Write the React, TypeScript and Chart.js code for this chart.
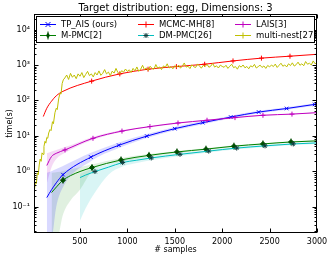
import React, { useEffect, useRef } from 'react';
import { Chart, registerables } from 'chart.js';

Chart.register(...registerables);

const TITLE = 'Target distribution: egg, Dimensions: 3';
const X_LABEL = '# samples';
const Y_LABEL = 'time(s)';
const FONT = 'DejaVu Sans';

const xTickValues = [500, 1000, 1500, 2000, 2500, 3000];
const xTickLabels = ['500', '1000', '1500', '2000', '2500', '3000'];
const yTickValues = [0.1, 1, 10, 100, 1000, 10000];
const yTickLabels = ['10⁻¹', '10⁰', '10¹', '10²', '10³', '10⁴'];

// TP_AIS (ours)
const tpAisX = [150, 200, 250, 321, 615, 910, 1205, 1500, 1795, 2090, 2385, 2680, 2975, 3000];
const tpAisY = [0.18, 0.3, 0.47, 0.8, 2.5, 5.4, 9.8, 15.9, 23.5, 33.8, 46.8, 59, 77, 79];
const tpAisMarkX = [321, 615, 910, 1205, 1500, 1795, 2090, 2385, 2680, 2975];
const tpAisLo = [0.01, 0.012, 0.1, 0.35, 1.9, 4.5, 8.6, 14.3, 21.3, 31, 43, 54.5, 71, 73];
const tpAisHi = [0.9, 1.0, 1.15, 1.4, 3.3, 6.5, 11.2, 17.8, 26, 37, 51, 64, 83, 85];

// MCMC-MH[8]
const mcmcX = [113, 150, 200, 250, 320, 623, 920, 1218, 1517, 1815, 2114, 2414, 2715, 3000];
const mcmcY = [35, 60, 95, 135, 180, 350, 560, 760, 900, 1050, 1300, 1560, 1770, 2000];
const mcmcMarkX = [623, 920, 1218, 1517, 1815, 2114, 2414, 2715];

// LAIS[3]
const laisX = [150, 200, 250, 342, 637, 943, 1238, 1534, 1840, 2135, 2430, 2736, 3000];
const laisY = [1.45, 2.6, 3.2, 4.0, 8.5, 13.6, 18.2, 23, 27.5, 32.6, 38, 41, 45];
const laisMarkX = [342, 637, 943, 1238, 1534, 1840, 2135, 2430, 2736];
const laisLo = [0.45, 1.3, 2.2, 3.3, 7.7, 12.8, 17.4, 22, 26.5, 31.7, 37, 40, 44];
const laisHi = [3.2, 3.6, 4.0, 4.8, 9.3, 14.5, 19, 24, 28.5, 33.5, 39, 42, 46];

// M-PMC[2]
const mpmcX = [200, 260, 321, 400, 500, 627, 933, 1228, 1523, 1829, 2124, 2430, 2726, 3000];
const mpmcY = [0.25, 0.38, 0.56, 0.75, 0.98, 1.27, 2.08, 2.8, 3.5, 4.2, 5.1, 5.9, 6.7, 7.2];
const mpmcMarkX = [321, 627, 933, 1228, 1523, 1829, 2124, 2430, 2726];
const mpmcLo = [0.01, 0.012, 0.06, 0.15, 0.3, 1.0, 1.85, 2.55, 3.25, 3.95, 4.8, 5.6, 6.4, 6.9];
const mpmcHi = [0.9, 0.95, 1.0, 1.15, 1.3, 1.55, 2.35, 3.05, 3.75, 4.45, 5.4, 6.2, 7.0, 7.5];

// DM-PMC[26]
const dmpmcX = [500, 560, 658, 800, 950, 1100, 1252, 1555, 1858, 2153, 2452, 2750, 3000];
const dmpmcY = [0.66, 0.78, 0.98, 1.3, 1.76, 2.05, 2.37, 3.0, 3.7, 4.5, 5.2, 5.9, 6.3];
const dmpmcMarkX = [658, 950, 1252, 1555, 1858, 2153, 2452, 2750];
const dmpmcLo = [0.04, 0.09, 0.25, 0.8, 1.35, 1.7, 2.05, 2.7, 3.4, 4.15, 4.85, 5.5, 5.9];
const dmpmcHi = [0.85, 1.0, 1.25, 1.6, 2.1, 2.35, 2.65, 3.3, 4.0, 4.85, 5.55, 6.3, 6.7];

// multi-nest[27]
const nestX = [
  20, 30, 40, 50, 60, 70, 80, 90, 100, 110, 120, 131, 140, 150, 160, 170, 184, 195, 210, 220, 236, 250, 260, 275, 289, 300, 312, 324,
  340, 360, 380, 400, 420, 440, 460, 480, 500, 520, 540, 560, 580, 600,
  620, 640, 660, 680, 700, 720, 740, 760, 780, 800, 820, 840, 860, 880, 900, 920, 940, 960, 980, 1000,
  1020, 1040, 1060, 1080, 1100, 1120, 1140, 1160, 1180, 1200, 1220, 1240, 1260, 1280, 1300, 1320, 1340, 1360, 1380, 1400, 1420, 1440, 1460, 1480, 1500,
  1520, 1540, 1560, 1580, 1600, 1620, 1640, 1660, 1680, 1700, 1720, 1740, 1760, 1780, 1800, 1820, 1840, 1860, 1880, 1900, 1920, 1940, 1960, 1980, 2000,
  2020, 2040, 2060, 2080, 2100, 2120, 2140, 2160, 2180, 2200, 2220, 2240, 2260, 2280, 2300, 2320, 2340, 2360, 2380, 2400, 2420, 2440, 2460, 2480, 2500,
  2520, 2540, 2560, 2580, 2600, 2620, 2640, 2660, 2680, 2700, 2720, 2740, 2760, 2780, 2800, 2820, 2840, 2860, 2880, 2900, 2920, 2940, 2960, 2980, 3000,
];
const nestY = [
  0.3, 0.5, 0.45, 0.9, 0.8, 1.5, 2.2, 1.9, 3.3, 3.0, 5.0, 7, 6.2, 9, 8.5, 12, 15, 14, 25, 22, 45, 60, 55, 110, 160, 150, 300, 380,
  430, 520, 390, 580, 450, 520, 410, 560, 480, 610, 440, 540, 660, 500,
  560, 460, 610, 520, 680, 510, 580, 740, 560, 630, 500, 670, 590, 800, 610, 560, 690, 630, 770, 660,
  730, 620, 800, 680, 880, 660, 760, 980, 740, 830, 700, 920, 800, 760, 1030, 810, 880, 740, 940, 860, 1080, 820, 900, 780, 960,
  860, 990, 810, 940, 1140, 870, 920, 790, 1010, 890, 850, 1070, 940, 810, 980, 900, 1050, 860, 930, 1110, 870, 950, 820, 990, 910,
  860, 980, 800, 920, 1050, 840, 900, 760, 960, 870, 1000, 830, 910, 780, 950, 880, 1040, 820, 900, 990, 850, 940, 800, 970, 880,
  1000, 900, 1060, 850, 980, 1120, 920, 1000, 880, 1080, 960, 1150, 930, 1020, 1200, 980, 1080, 950, 1250, 1050, 1120, 1000, 1300, 1080, 1180,
];

const BLUE = '#0000ff';
const RED = '#ff0000';
const MAGENTA = '#bf00bf';
const GREEN = '#008000';
const CYAN = '#00bfbf';
const YELLOW = '#bfbf00';
const GREEN_MARK = '#004d00';
const CYAN_MARK = '#0d3d3d';

const pts = (xs: number[], ys: number[]) => xs.map((x, i) => ({ x, y: ys[i] }));

const lineDs = (label: string, xs: number[], ys: number[], color: string, markX: number[], style: string, markColor: string, radius: number, order: number, extra: any = {}) => ({
  label,
  data: pts(xs, ys),
  borderColor: color,
  backgroundColor: markColor,
  borderWidth: 1,
  pointStyle: style,
  pointBorderColor: markColor,
  pointBackgroundColor: markColor,
  pointBorderWidth: 1,
  pointRadius: (ctx: any) => (markX.includes(xs[ctx.dataIndex]) ? radius : 0),
  cubicInterpolationMode: 'monotone',
  fill: false,
  order,
  ...extra,
});

const bandDs = (xs: number[], lo: number[], hi: number[], rgba: string) => [
  { label: '_lo', data: pts(xs, lo), borderWidth: 0, pointRadius: 0, fill: false, cubicInterpolationMode: 'monotone', order: 20, borderColor: 'rgba(0,0,0,0)' },
  { label: '_hi', data: pts(xs, hi), borderWidth: 0, pointRadius: 0, fill: '-1', backgroundColor: rgba, cubicInterpolationMode: 'monotone', order: 20, borderColor: 'rgba(0,0,0,0)' },
];

type LegendItem = { text: string; color: string; marker: string; mcolor: string };
const legendItems: LegendItem[] = [
  { text: 'TP_AIS (ours)', color: BLUE, marker: 'x', mcolor: BLUE },
  { text: 'MCMC-MH[8]', color: RED, marker: '+', mcolor: RED },
  { text: 'LAIS[3]', color: MAGENTA, marker: '+', mcolor: MAGENTA },
  { text: 'M-PMC[2]', color: GREEN, marker: 'd', mcolor: GREEN_MARK },
  { text: 'DM-PMC[26]', color: CYAN, marker: '*', mcolor: CYAN_MARK },
  { text: 'multi-nest[27]', color: YELLOW, marker: '+', mcolor: YELLOW },
];

function drawMarker(ctx: CanvasRenderingContext2D, kind: string, x: number, y: number, color: string) {
  ctx.save();
  ctx.strokeStyle = color;
  ctx.fillStyle = color;
  ctx.lineWidth = 1;
  ctx.beginPath();
  if (kind === 'x') {
    ctx.moveTo(x - 2.5, y - 2.5); ctx.lineTo(x + 2.5, y + 2.5);
    ctx.moveTo(x - 2.5, y + 2.5); ctx.lineTo(x + 2.5, y - 2.5);
    ctx.stroke();
  } else if (kind === '+') {
    ctx.moveTo(x - 3, y); ctx.lineTo(x + 3, y);
    ctx.moveTo(x, y - 3); ctx.lineTo(x, y + 3);
    ctx.stroke();
  } else if (kind === 'd') {
    ctx.moveTo(x, y - 4); ctx.lineTo(x, y + 4); ctx.stroke();
    ctx.beginPath();
    ctx.moveTo(x, y - 3); ctx.lineTo(x + 2, y); ctx.lineTo(x, y + 3); ctx.lineTo(x - 2, y); ctx.closePath();
    ctx.fill();
  } else if (kind === '*') {
    ctx.moveTo(x - 2.5, y); ctx.lineTo(x + 2.5, y);
    ctx.moveTo(x, y - 2.5); ctx.lineTo(x, y + 2.5);
    ctx.moveTo(x - 2, y - 2); ctx.lineTo(x + 2, y + 2);
    ctx.moveTo(x - 2, y + 2); ctx.lineTo(x + 2, y - 2);
    ctx.stroke();
  }
  ctx.restore();
}

const decorPlugin = {
  id: 'decor',
  afterDraw(chart: any) {
    const { ctx, chartArea: a, scales } = chart;
    const xs = scales.x;
    const ys = scales.y;
    ctx.save();
    // title
    ctx.fillStyle = '#000';
    ctx.font = `10px "${FONT}"`;
    ctx.textAlign = 'center';
    ctx.textBaseline = 'middle';
    ctx.fillText(TITLE, (a.left + a.right) / 2, 8);
    // frame
    ctx.strokeStyle = '#000';
    ctx.lineWidth = 1;
    const L = Math.round(a.left) + 0.5;
    const R = Math.round(a.right) - 0.5;
    const T = Math.round(a.top) + 0.5;
    const B = Math.round(a.bottom) - 0.5;
    ctx.strokeRect(L, T, R - L, B - T);
    // ticks
    ctx.beginPath();
    for (const v of xTickValues) {
      const px = Math.round(xs.getPixelForValue(v)) + 0.5;
      ctx.moveTo(px, B); ctx.lineTo(px, B - 4);
      ctx.moveTo(px, T); ctx.lineTo(px, T + 4);
    }
    for (let e = -2; e <= 4; e++) {
      for (let k = 1; k <= 9; k++) {
        const v = k * Math.pow(10, e);
        if (v < ys.min || v > ys.max) continue;
        const py = Math.round(ys.getPixelForValue(v)) + 0.5;
        const len = k === 1 ? 4 : 2;
        ctx.moveTo(L, py); ctx.lineTo(L + len, py);
        ctx.moveTo(R, py); ctx.lineTo(R - len, py);
      }
    }
    ctx.stroke();
    // legend
    const bx = 36.5, by = 16.5, bw = 278, bh = 26;
    ctx.fillStyle = '#fff';
    ctx.fillRect(bx, by, bw, bh);
    ctx.strokeStyle = '#000';
    ctx.strokeRect(bx, by, bw, bh);
    const colX = [40, 138, 235];
    const rowY = [24, 35];
    ctx.font = `8.5px "${FONT}"`;
    ctx.textAlign = 'left';
    ctx.textBaseline = 'middle';
    legendItems.forEach((it, i) => {
      const cx = colX[i % 3];
      const cy = rowY[Math.floor(i / 3)] + 0.5;
      ctx.strokeStyle = it.color;
      ctx.lineWidth = 1;
      ctx.beginPath();
      ctx.moveTo(cx, cy); ctx.lineTo(cx + 16, cy);
      ctx.stroke();
      drawMarker(ctx, it.marker, cx + 8, cy, it.mcolor);
      ctx.fillStyle = '#000';
      ctx.fillText(it.text, cx + 21, cy);
    });
    ctx.restore();
  },
};

export default function App() {
  const ref = useRef<HTMLCanvasElement>(null);
  useEffect(() => {
    if (!ref.current) return;
    const datasets: any[] = [
      ...bandDs(tpAisX, tpAisLo, tpAisHi, 'rgba(0,0,255,0.15)'),
      ...bandDs(laisX, laisLo, laisHi, 'rgba(191,0,191,0.15)'),
      ...bandDs(mpmcX, mpmcLo, mpmcHi, 'rgba(0,128,0,0.12)'),
      ...bandDs(dmpmcX, dmpmcLo, dmpmcHi, 'rgba(0,191,191,0.15)'),
      lineDs('TP_AIS (ours)', tpAisX, tpAisY, BLUE, tpAisMarkX, 'crossRot', BLUE, 2.5, 6),
      lineDs('MCMC-MH[8]', mcmcX, mcmcY, RED, mcmcMarkX, 'cross', RED, 2.5, 5),
      lineDs('LAIS[3]', laisX, laisY, MAGENTA, laisMarkX, 'cross', MAGENTA, 2.5, 4),
      lineDs('M-PMC[2]', mpmcX, mpmcY, GREEN, mpmcMarkX, 'rectRot', GREEN_MARK, 2.5, 3),
      {
        label: '_err',
        data: pts(mpmcMarkX, mpmcMarkX.map((x) => mpmcY[mpmcX.indexOf(x)])),
        showLine: false,
        pointStyle: 'line',
        rotation: 90,
        pointRadius: 3.5,
        pointBorderColor: GREEN_MARK,
        pointBorderWidth: 1,
        order: 3,
      },
      lineDs('DM-PMC[26]', dmpmcX, dmpmcY, CYAN, dmpmcMarkX, 'star', CYAN_MARK, 2.5, 2),
      lineDs('multi-nest[27]', nestX, nestY, YELLOW, [], 'cross', YELLOW, 2.5, 1, { cubicInterpolationMode: 'default', tension: 0 }),
    ];
    const chart = new Chart(ref.current, {
      type: 'line',
      data: { datasets },
      options: {
        responsive: false,
        animation: false,
        devicePixelRatio: 1,
        layout: { padding: { left: 0, right: 15, top: 14, bottom: 0 } },
        plugins: { legend: { display: false }, tooltip: { enabled: false }, title: { display: false } },
        scales: {
          x: {
            type: 'linear',
            min: 15,
            max: 3000,
            afterBuildTicks: (s: any) => { s.ticks = xTickValues.map((v) => ({ value: v })); },
            afterFit: (s: any) => { s.height = 26; },
            ticks: {
              font: { family: FONT, size: 8 },
              color: '#000',
              padding: 4,
              maxRotation: 0,
              autoSkip: false,
              callback: (v: any) => { const i = xTickValues.indexOf(Number(v)); return i >= 0 ? xTickLabels[i] : ''; },
            },
            grid: { display: false, drawTicks: false },
            border: { display: false },
            title: { display: true, text: X_LABEL, font: { family: FONT, size: 8 }, color: '#000', padding: { top: 0, bottom: 4 } },
          },
          y: {
            type: 'logarithmic',
            min: 0.018,
            max: 27500,
            afterBuildTicks: (s: any) => { s.ticks = yTickValues.map((v) => ({ value: v })); },
            afterFit: (s: any) => { s.width = 34; },
            ticks: {
              font: { family: FONT, size: 8 },
              color: '#000',
              padding: 4,
              autoSkip: false,
              callback: (v: any) => { const i = yTickValues.indexOf(Number(v)); return i >= 0 ? yTickLabels[i] : ''; },
            },
            grid: { display: false, drawTicks: false },
            border: { display: false },
            title: { display: true, text: Y_LABEL, font: { family: FONT, size: 8 }, color: '#000', padding: { top: 5, bottom: 0 } },
          },
        },
      } as any,
      plugins: [decorPlugin],
    });
    return () => chart.destroy();
  }, []);
  return (
    <div style={{ position: 'absolute', left: 0, top: 0, width: 332, height: 259, background: '#fff' }}>
      <canvas ref={ref} width={332} height={259} style={{ display: 'block' }} />
    </div>
  );
}
